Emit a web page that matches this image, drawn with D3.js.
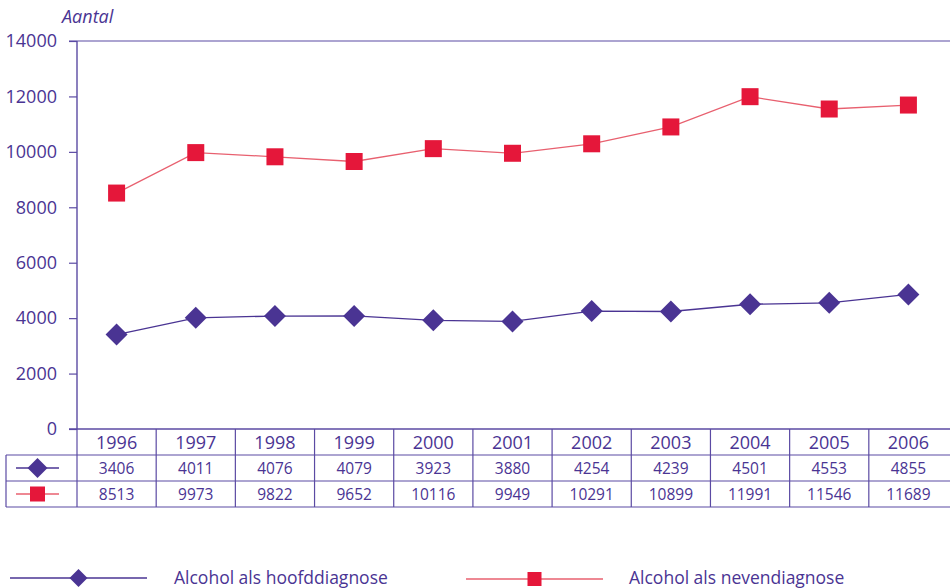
<!DOCTYPE html>
<html>
<head>
<meta charset="utf-8">
<script src="https://cdn.jsdelivr.net/npm/d3@7"></script>
<style>
  body { margin: 0; background: #fff; }
  svg { display: block; font-family: "Open Sans", sans-serif; }
</style>
</head>
<body>
<svg id="chart" width="950" height="588"></svg>
<script>
// Aantal per jaar: alcohol als hoofd- en nevendiagnose
const years = ["1996","1997","1998","1999","2000","2001","2002","2003","2004","2005","2006"];
const hoofddiagnose = [3406, 4011, 4076, 4079, 3923, 3880, 4254, 4239, 4501, 4553, 4855];
const nevendiagnose = [8513, 9973, 9822, 9652, 10116, 9949, 10291, 10899, 11991, 11546, 11689];
const yTicks = [0, 2000, 4000, 6000, 8000, 10000, 12000, 14000];
const seriesNames = ["Alcohol als hoofddiagnose", "Alcohol als nevendiagnose"];

const purple = "#4a3493";
const axisCol = "#5b4aa3";
const red = "#e5173a";
const redLine = "#e8606f";

const svg = d3.select("#chart");
const plotLeft = 77, plotRight = 948, plotTop = 41, plotBottom = 429;

const x = d3.scaleBand().domain(years).range([plotLeft, plotRight]).padding(0);
const y = d3.scaleLinear().domain([0, 14000]).range([plotBottom, plotTop]);

// y axis
const yAxis = svg.append("g").attr("transform", `translate(${plotLeft},0)`)
  .call(d3.axisLeft(y).tickValues(yTicks).tickSize(8).tickPadding(12).tickFormat(d3.format("d")));
yAxis.select(".domain").remove();
yAxis.selectAll(".tick line").attr("stroke", axisCol).attr("stroke-width", 1.2);
yAxis.selectAll(".tick text").attr("fill", purple).attr("font-size", 18).attr("font-family", "Open Sans, sans-serif");
svg.append("line").attr("x1", plotLeft).attr("x2", plotLeft).attr("y1", plotTop).attr("y2", plotBottom)
  .attr("stroke", axisCol).attr("stroke-width", 1.4);
svg.append("line").attr("x1", plotLeft - 8).attr("x2", 950).attr("y1", plotTop).attr("y2", plotTop)
  .attr("stroke", axisCol).attr("stroke-width", 1.2);

svg.append("text").attr("x", 62).attr("y", 23).attr("fill", purple)
  .attr("font-size", 18).attr("font-style", "italic").text("Aantal");

// lines
const line = d3.line().x((d, i) => x(years[i]) + x.bandwidth() / 2).y(d => y(d));
svg.append("path").datum(nevendiagnose).attr("d", line).attr("fill", "none")
  .attr("stroke", redLine).attr("stroke-width", 1.3);
svg.append("path").datum(hoofddiagnose).attr("d", line).attr("fill", "none")
  .attr("stroke", purple).attr("stroke-width", 1.3);

const diamond = (cx, cy, r) => `M${cx},${cy - r}L${cx + r},${cy}L${cx},${cy + r}L${cx - r},${cy}Z`;
svg.append("g").selectAll("path").data(hoofddiagnose).join("path")
  .attr("d", (d, i) => diamond(x(years[i]) + x.bandwidth() / 2, y(d), 11))
  .attr("fill", purple);
const sq = 17;
svg.append("g").selectAll("rect").data(nevendiagnose).join("rect")
  .attr("x", (d, i) => x(years[i]) + x.bandwidth() / 2 - sq / 2)
  .attr("y", d => y(d) - sq / 2)
  .attr("width", sq).attr("height", sq).attr("fill", red);

// data table
const rowY = [429, 455, 481, 507];
const tableLeft = 6;
svg.append("line").attr("x1", plotLeft - 8).attr("x2", 950).attr("y1", rowY[0]).attr("y2", rowY[0])
  .attr("stroke", axisCol).attr("stroke-width", 1.4);
[rowY[1], rowY[2], rowY[3]].forEach(yy => {
  svg.append("line").attr("x1", tableLeft).attr("x2", 950).attr("y1", yy).attr("y2", yy)
    .attr("stroke", axisCol).attr("stroke-width", 1.2);
});
svg.append("line").attr("x1", tableLeft).attr("x2", tableLeft).attr("y1", rowY[1]).attr("y2", rowY[3])
  .attr("stroke", axisCol).attr("stroke-width", 1.2);
years.forEach((yr, i) => {
  if (i > 0) {
    svg.append("line").attr("x1", x(yr)).attr("x2", x(yr)).attr("y1", rowY[0]).attr("y2", rowY[3])
      .attr("stroke", axisCol).attr("stroke-width", 1.2);
  }
  const cx = x(yr) + x.bandwidth() / 2;
  svg.append("text").attr("x", cx).attr("y", 449).attr("text-anchor", "middle")
    .attr("fill", purple).attr("font-size", 18).text(yr);
  svg.append("text").attr("x", cx).attr("y", 474).attr("text-anchor", "middle")
    .attr("fill", purple).attr("font-size", 15.5).text(hoofddiagnose[i]);
  svg.append("text").attr("x", cx).attr("y", 500).attr("text-anchor", "middle")
    .attr("fill", purple).attr("font-size", 15.5).text(nevendiagnose[i]);
});
svg.append("line").attr("x1", plotLeft).attr("x2", plotLeft).attr("y1", rowY[0]).attr("y2", rowY[3])
  .attr("stroke", axisCol).attr("stroke-width", 1.2);

// table row keys
function keyPurple(g, x1, x2, cy, r) {
  g.append("line").attr("x1", x1).attr("x2", x2).attr("y1", cy).attr("y2", cy)
    .attr("stroke", purple).attr("stroke-width", 1.3);
  g.append("path").attr("d", diamond((x1 + x2) / 2, cy, r)).attr("fill", purple);
}
function keyRed(g, x1, x2, cy, s) {
  g.append("line").attr("x1", x1).attr("x2", x2).attr("y1", cy).attr("y2", cy)
    .attr("stroke", redLine).attr("stroke-width", 1.5);
  g.append("rect").attr("x", (x1 + x2) / 2 - s / 2).attr("y", cy - s / 2)
    .attr("width", s).attr("height", s).attr("fill", red);
}
keyPurple(svg, 16, 59, 468, 10);
keyRed(svg, 16, 59, 494, 15);

// legend
const lg = svg.append("g");
keyPurple(lg, 10, 147, 578, 9);
lg.append("text").attr("x", 174).attr("y", 584).attr("fill", purple).attr("font-size", 17.5).text(seriesNames[0]);
keyRed(lg, 466, 603, 579, 14);
lg.append("text").attr("x", 629).attr("y", 584).attr("fill", purple).attr("font-size", 17.5).text(seriesNames[1]);
</script>
</body>
</html>
